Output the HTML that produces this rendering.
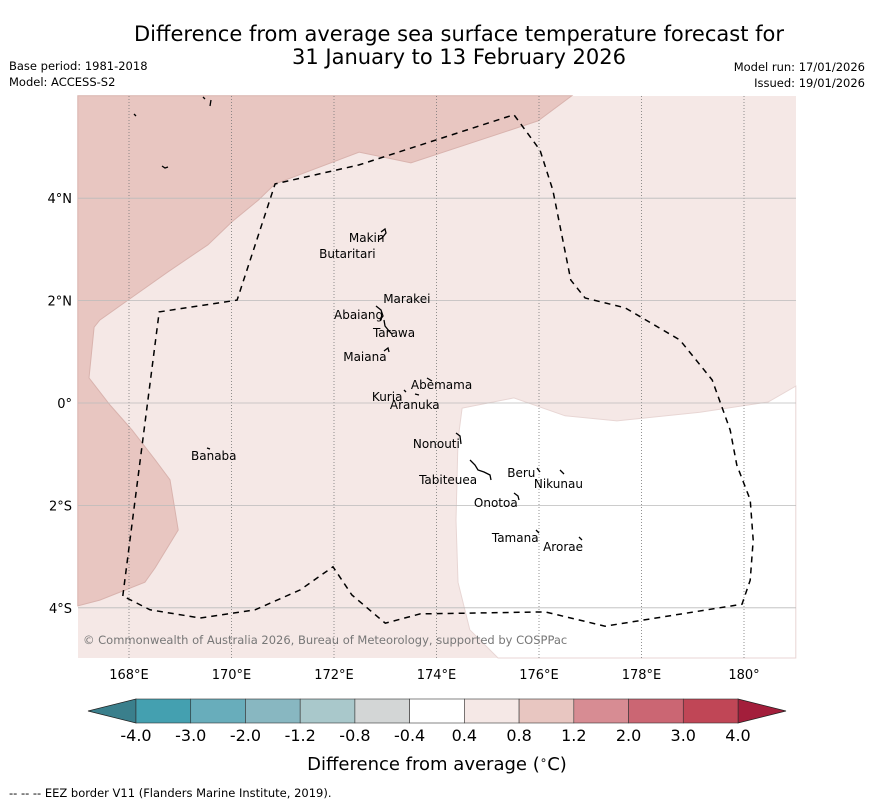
<!DOCTYPE html>
<html><head><meta charset="utf-8"><style>
body{margin:0;background:#fff;width:873px;height:804px;overflow:hidden;font-family:"DejaVu Sans","Liberation Sans",sans-serif}
svg{position:absolute;left:0;top:0}
</style></head><body>
<svg id="s" width="873" height="804" xmlns="http://www.w3.org/2000/svg" font-family="DejaVu Sans, Liberation Sans, sans-serif">
<text x="459" y="41" text-anchor="middle" font-size="21">Difference from average sea surface temperature forecast for</text>
<text x="459" y="64" text-anchor="middle" font-size="21">31 January to 13 February 2026</text>
<text x="9" y="70" font-size="11.5">Base period: 1981-2018</text>
<text x="9" y="86" font-size="11.5">Model: ACCESS-S2</text>
<text x="865" y="71" font-size="11.5" text-anchor="end">Model run: 17/01/2026</text>
<text x="865" y="87" font-size="11.5" text-anchor="end">Issued: 19/01/2026</text>
<g id="map"></g>
<g id="cbar"></g>
<text x="437" y="770" text-anchor="middle" font-size="18">Difference from average (<tspan font-size="12" dy="-6">∘</tspan><tspan dy="6">C)</tspan></text>
<text x="9" y="797" font-size="11.5">--  --  -- EEZ border V11 (Flanders Marine Institute, 2019).</text>
</svg>
<script>
const lonTicks=[168,170,172,174,176,178,180];
const lonLabels=["168°E","170°E","172°E","174°E","176°E","178°E","180°"];
const latTicks=[4,2,0,-2,-4];
const latLabels=["4°N","2°N","0°","2°S","4°S"];
const cbarLevels=["-4.0","-3.0","-2.0","-1.2","-0.8","-0.4","0.4","0.8","1.2","2.0","3.0","4.0"];
const cbarColors=["#44a0b0","#68adbb","#88b7c1","#a9c8cb","#d3d6d6","#ffffff","#f5e8e6","#e8c6c1","#d78c93","#cb6673","#c04656"];
const warmRegion=[[167.0,6.0],[176.64,6.0],[175.98,5.51],[173.5,4.69],[172.49,4.9],[170.85,4.28],[170.52,3.96],[170.01,3.54],[169.54,3.09],[168.76,2.56],[167.98,2.01],[167.43,1.62],[167.32,1.48],[167.22,0.49],[167.63,-0.04],[168.06,-0.53],[168.51,-1.11],[168.8,-1.5],[168.96,-2.48],[168.51,-3.22],[168.31,-3.5],[167.43,-3.85],[167.0,-3.96]];
const neutralRegion=[[174.5,-0.1],[175.51,0.1],[176.51,-0.25],[177.52,-0.35],[179.14,-0.18],[180.47,0.02],[181.01,0.33],[181.01,-4.98],[175.2,-4.98],[174.65,-4.43],[174.42,-3.5],[174.38,-2.29],[174.42,-0.72]];
const eez=[[167.88,-3.77],[168.59,1.78],[170.11,2.01],[170.85,4.28],[172.49,4.65],[175.51,5.63],[176.02,4.94],[176.27,4.16],[176.62,2.4],[176.9,2.05],[177.68,1.86],[178.75,1.23],[179.38,0.45],[179.73,-0.53],[179.86,-1.21],[180.12,-1.89],[180.18,-2.68],[180.12,-3.46],[179.96,-3.93],[177.29,-4.36],[176.12,-4.08],[173.68,-4.12],[173.0,-4.3],[172.35,-3.75],[171.98,-3.2],[171.34,-3.65],[170.46,-4.04],[169.39,-4.2],[168.41,-4.04],[167.88,-3.77]];
const islandNames=["Makin","Butaritari","Marakei","Abaiang","Tarawa","Maiana","Abemama","Kuria","Aranuka","Nonouti","Banaba","Beru","Nikunau","Tabiteuea","Onotoa","Tamana","Arorae"];
const islandLon=[172.29,171.71,172.96,172.0,172.76,172.18,173.5,172.74,173.09,173.54,169.21,175.38,175.9,173.66,174.73,175.08,176.08];
const islandLat=[3.14,2.83,1.95,1.64,1.29,0.82,0.27,0.04,-0.12,-0.88,-1.11,-1.45,-1.66,-1.58,-2.03,-2.71,-2.89];
const NS="http://www.w3.org/2000/svg";
const X=lon=>129+(lon-168)*51.25, Y=lat=>403-lat*51.2;
const map=document.getElementById('map'), cb=document.getElementById('cbar');
function mk(tag,attrs,parent){const e=document.createElementNS(NS,tag);for(const k in attrs)e.setAttribute(k,attrs[k]);parent.appendChild(e);return e;}
const pts=a=>a.map(p=>X(p[0]).toFixed(1)+','+Y(p[1]).toFixed(1)).join(' ');
let bg=mk('rect',{x:78,y:96,width:718,height:562,fill:'#f5e8e6'},map);


let w=mk('polygon',{points:pts(warmRegion),fill:'#e8c6c1',stroke:'#d9b3ae','stroke-width':1},map);


let n=mk('polygon',{points:pts(neutralRegion),fill:'#ffffff',stroke:'#e8d6d4','stroke-width':1},map);


lonTicks.forEach((v,i)=>{
 let l=mk('line',{x1:X(v),x2:X(v),y1:96,y2:658,stroke:'#777','stroke-width':0.8,'stroke-dasharray':'1,2'},map);
 
 
 let t=mk('text',{x:X(v),y:679,'text-anchor':'middle','font-size':13},map);t.textContent=lonLabels[i];
 
 
});
latTicks.forEach((v,i)=>{
 let l=mk('line',{x1:78,x2:796,y1:Y(v),y2:Y(v),stroke:'#bbb','stroke-width':0.8},map);
 
 
 let t=mk('text',{x:72,y:Y(v)+5,'text-anchor':'end','font-size':13},map);t.textContent=latLabels[i];
 
 
});
let e=mk('polyline',{points:pts(eez),fill:'none',stroke:'#000','stroke-width':1.5,'stroke-dasharray':'6,5'},map);


const coast=["M381,232 l4,-3 l1,4 l-4,5 l-4,2","M376,306 l5,4 l2,6 l-3,4","M384,320 l1,6 l4,5 l3,3","M384,351 l4,-3 l1,4","M404,390 l2,2 M415,394 l4,1 M427,378 l5,3","M456,433 l4,3 l1,8","M470,460 l5,5 l3,5 l6,2 l6,3 l1,5","M537,468 l3,4 M560,470 l4,4","M514,493 l4,3 l1,4","M536,530 l3,3 M579,537 l3,3","M207,448 l3,1","M203,97 l2,2 M211,100 l-1,6","M134,114 l2,2","M162,166 l3,2 l3,-1"];
coast.forEach(d=>{let c=mk('path',{d:d,fill:'none',stroke:'#000','stroke-width':1.3},map);
 
 });
islandNames.forEach((nm,i)=>{
 let t=mk('text',{x:X(islandLon[i]),y:Y(islandLat[i]),'font-size':12},map);t.textContent=nm;
 
 
});
let cr=mk('text',{x:83,y:644,'font-size':11.5,fill:'#777'},map);cr.textContent='© Commonwealth of Australia 2026, Bureau of Meteorology, supported by COSPPac';


const cx0=136,cx1=738,cy=699,ch=24,bw=(cx1-cx0)/cbarColors.length;
let tl=mk('polygon',{points:`88,${cy+ch/2} ${cx0},${cy} ${cx0},${cy+ch}`,fill:'#3a7f8c',stroke:'#222','stroke-width':0.8},cb);


let tr=mk('polygon',{points:`786,${cy+ch/2} ${cx1},${cy} ${cx1},${cy+ch}`,fill:'#a31e3b',stroke:'#222','stroke-width':0.8},cb);


cbarColors.forEach((c,i)=>{
 let r=mk('rect',{x:cx0+i*bw,y:cy,width:bw,height:ch,fill:c,stroke:'#333','stroke-width':0.6},cb);
 
 
});
cbarLevels.forEach((v,i)=>{
 let t=mk('text',{x:cx0+i*bw,y:741,'text-anchor':'middle','font-size':16},cb);t.textContent=v;
 
 
});
</script>
</body></html>
